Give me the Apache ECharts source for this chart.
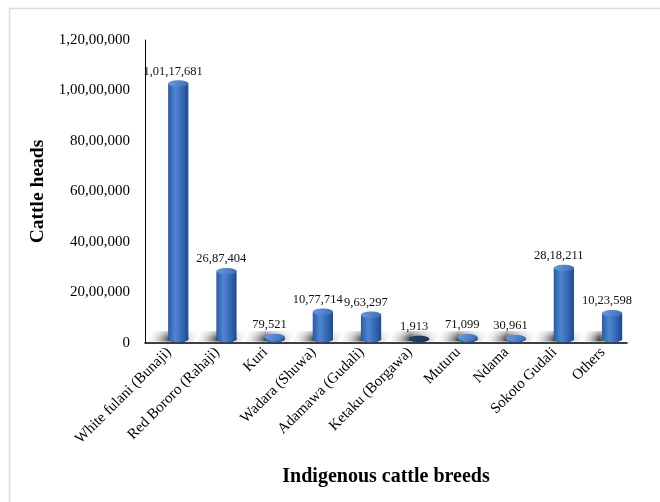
<!DOCTYPE html>
<html>
<head>
<meta charset="utf-8">
<script src="https://cdn.jsdelivr.net/npm/echarts@6/dist/echarts.min.js"></script>
<style>
  html, body { margin: 0; padding: 0; background: #fff; }
  #chart { width: 660px; height: 502px; }
</style>
</head>
<body>
<div id="chart"></div>
<script>
// Indigenous cattle breeds and their head counts
const breeds = [
  'White fulani (Bunaji)', 'Red Bororo (Rahaji)', 'Kuri', 'Wadara (Shuwa)',
  'Adamawa (Gudali)', 'Ketaku (Borgawa)', 'Muturu', 'Ndama', 'Sokoto Gudali', 'Others'
];
const cattleHeads = [10117681, 2687404, 79521, 1077714, 963297, 1913, 71099, 30961, 2818211, 1023598];

// value axis range
const axisMin = 0;
const axisMax = 12000000;
const axisStep = 2000000;

// Indian digit grouping: 1,01,17,681
function indianFormat(n) {
  const s = String(Math.round(n));
  if (s.length <= 3) return s;
  const last3 = s.slice(-3);
  let rest = s.slice(0, -3);
  const parts = [];
  while (rest.length > 2) {
    parts.unshift(rest.slice(-2));
    rest = rest.slice(0, -2);
  }
  if (rest.length) parts.unshift(rest);
  return parts.join(',') + ',' + last3;
}

const serif = '"Liberation Serif", "Times New Roman", serif';

const seriesData = cattleHeads.map((v, i) => [i, v]);

// shadowed floor under each cylinder, kept inside the plot area
function renderFloor(params, api) {
  const i = api.value(0);
  const base = api.coord([i, 0]);
  const band = api.size([1, 0])[0];
  const cs = params.coordSys;
  const right = cs.x + cs.width;
  const depthX = band * 0.19;
  const depthY = 10;
  const x0 = base[0] - band / 2;
  const x1 = Math.min(base[0] + band / 2, right);
  const yf = base[1] - 1.5;
  const pts = [
    [x0, yf], [x1, yf],
    [Math.min(x1 + depthX, right), yf - depthY],
    [x0 + depthX, yf - depthY]
  ];
  return {
    type: 'group',
    children: [
      {
        type: 'polygon',
        shape: { points: pts },
        style: {
          fill: new echarts.graphic.LinearGradient(0, 0, 1, 0, [
            { offset: 0, color: 'rgba(255,255,255,0)' },
            { offset: 0.18, color: 'rgba(170,170,170,0.35)' },
            { offset: 0.42, color: 'rgba(45,45,45,0.9)' },
            { offset: 0.6, color: 'rgba(95,95,95,0.65)' },
            { offset: 0.85, color: 'rgba(200,200,200,0.25)' },
            { offset: 1, color: 'rgba(255,255,255,0)' }
          ])
        }
      },
      {
        type: 'polygon',
        shape: { points: pts },
        style: {
          fill: new echarts.graphic.LinearGradient(0, 0, 0, 1, [
            { offset: 0, color: 'rgba(255,255,255,0.7)' },
            { offset: 0.6, color: 'rgba(255,255,255,0.12)' },
            { offset: 1, color: 'rgba(255,255,255,0)' }
          ])
        }
      }
    ]
  };
}

const bodyFill = () => new echarts.graphic.LinearGradient(0, 0, 1, 0, [
  { offset: 0, color: '#2a5aa6' },
  { offset: 0.35, color: '#4f86d0' },
  { offset: 0.6, color: '#3c70bd' },
  { offset: 1, color: '#1d4a92' }
]);

// cylinder bars with value label
function renderCylinder(params, api) {
  const i = api.value(0);
  const v = api.value(1);
  const base = api.coord([i, 0]);
  const top = api.coord([i, v]);
  const band = api.size([1, 0])[0];
  const depthX = band * 0.19;
  const depthY = 4;
  const cx = base[0] + depthX;
  const w = band * 0.42;
  const ry = 3.2;
  const yb = base[1] - depthY;
  const yt = top[1] - depthY;
  const h = yb - yt;
  const topAlpha = Math.min(1, h / 0.5);
  return {
    type: 'group',
    children: [
      {
        type: 'ellipse',
        shape: { cx: cx, cy: yb, rx: w / 2, ry: ry },
        style: { fill: '#1b2b4d' }
      },
      {
        type: 'rect',
        shape: { x: cx - w / 2, y: yt, width: w, height: h },
        style: { fill: bodyFill() }
      },
      {
        type: 'ellipse',
        shape: { cx: cx, cy: yb, rx: w / 2, ry: ry },
        style: { fill: bodyFill(), opacity: topAlpha }
      },
      {
        type: 'ellipse',
        shape: { cx: cx, cy: yt, rx: w / 2, ry: ry },
        style: {
          fill: new echarts.graphic.LinearGradient(0, 0, 1, 1, [
            { offset: 0, color: '#6a9cde' },
            { offset: 1, color: '#3a6dba' }
          ]),
          opacity: topAlpha
        }
      },
      {
        type: 'text',
        style: {
          text: indianFormat(v),
          x: base[0] + 4,
          y: top[1] - 16,
          align: 'center',
          verticalAlign: 'middle',
          font: '12.5px ' + serif,
          fill: '#111'
        }
      }
    ]
  };
}

const chart = echarts.init(document.getElementById('chart'), null, { renderer: 'canvas' });
chart.setOption({
  backgroundColor: '#ffffff',
  animation: false,
  graphic: [
    {
      type: 'rect',
      shape: { x: 9.5, y: 8.5, width: 700, height: 600 },
      style: { fill: null, stroke: '#dcdcdc', lineWidth: 1.5 },
      silent: true,
      z: -10
    }
  ],
  grid: { left: 145, right: 33, top: 40, bottom: 159, containLabel: false },
  xAxis: {
    type: 'category',
    data: breeds,
    boundaryGap: true,
    axisLine: { show: true, lineStyle: { color: '#000', width: 1.5 } },
    axisTick: { show: false },
    axisLabel: {
      interval: 0,
      rotate: 45,
      margin: 7,
      fontFamily: serif,
      fontSize: 15,
      color: '#000'
    },
    name: 'Indigenous cattle breeds',
    nameLocation: 'middle',
    nameGap: 124,
    nameTextStyle: { fontFamily: serif, fontSize: 20, fontWeight: 'bold', color: '#000' },
    splitLine: { show: false }
  },
  yAxis: {
    type: 'value',
    min: axisMin,
    max: axisMax,
    interval: axisStep,
    axisLine: { show: true, lineStyle: { color: '#000', width: 1 } },
    axisTick: { show: false },
    splitLine: { show: false },
    axisLabel: {
      formatter: (val) => indianFormat(val),
      fontFamily: serif,
      fontSize: 15,
      color: '#000',
      margin: 15
    },
    name: 'Cattle heads',
    nameLocation: 'middle',
    nameGap: 80,
    nameTextStyle: { fontFamily: serif, fontSize: 19.5, fontWeight: 'bold', color: '#000' }
  },
  series: [
    {
      type: 'custom',
      name: 'floor',
      renderItem: renderFloor,
      data: seriesData,
      encode: { x: 0, y: 1 },
      z: 1,
      silent: true
    },
    {
      type: 'custom',
      name: 'Cattle heads',
      renderItem: renderCylinder,
      data: seriesData,
      encode: { x: 0, y: 1 },
      z: 2
    }
  ]
});
</script>
</body>
</html>
